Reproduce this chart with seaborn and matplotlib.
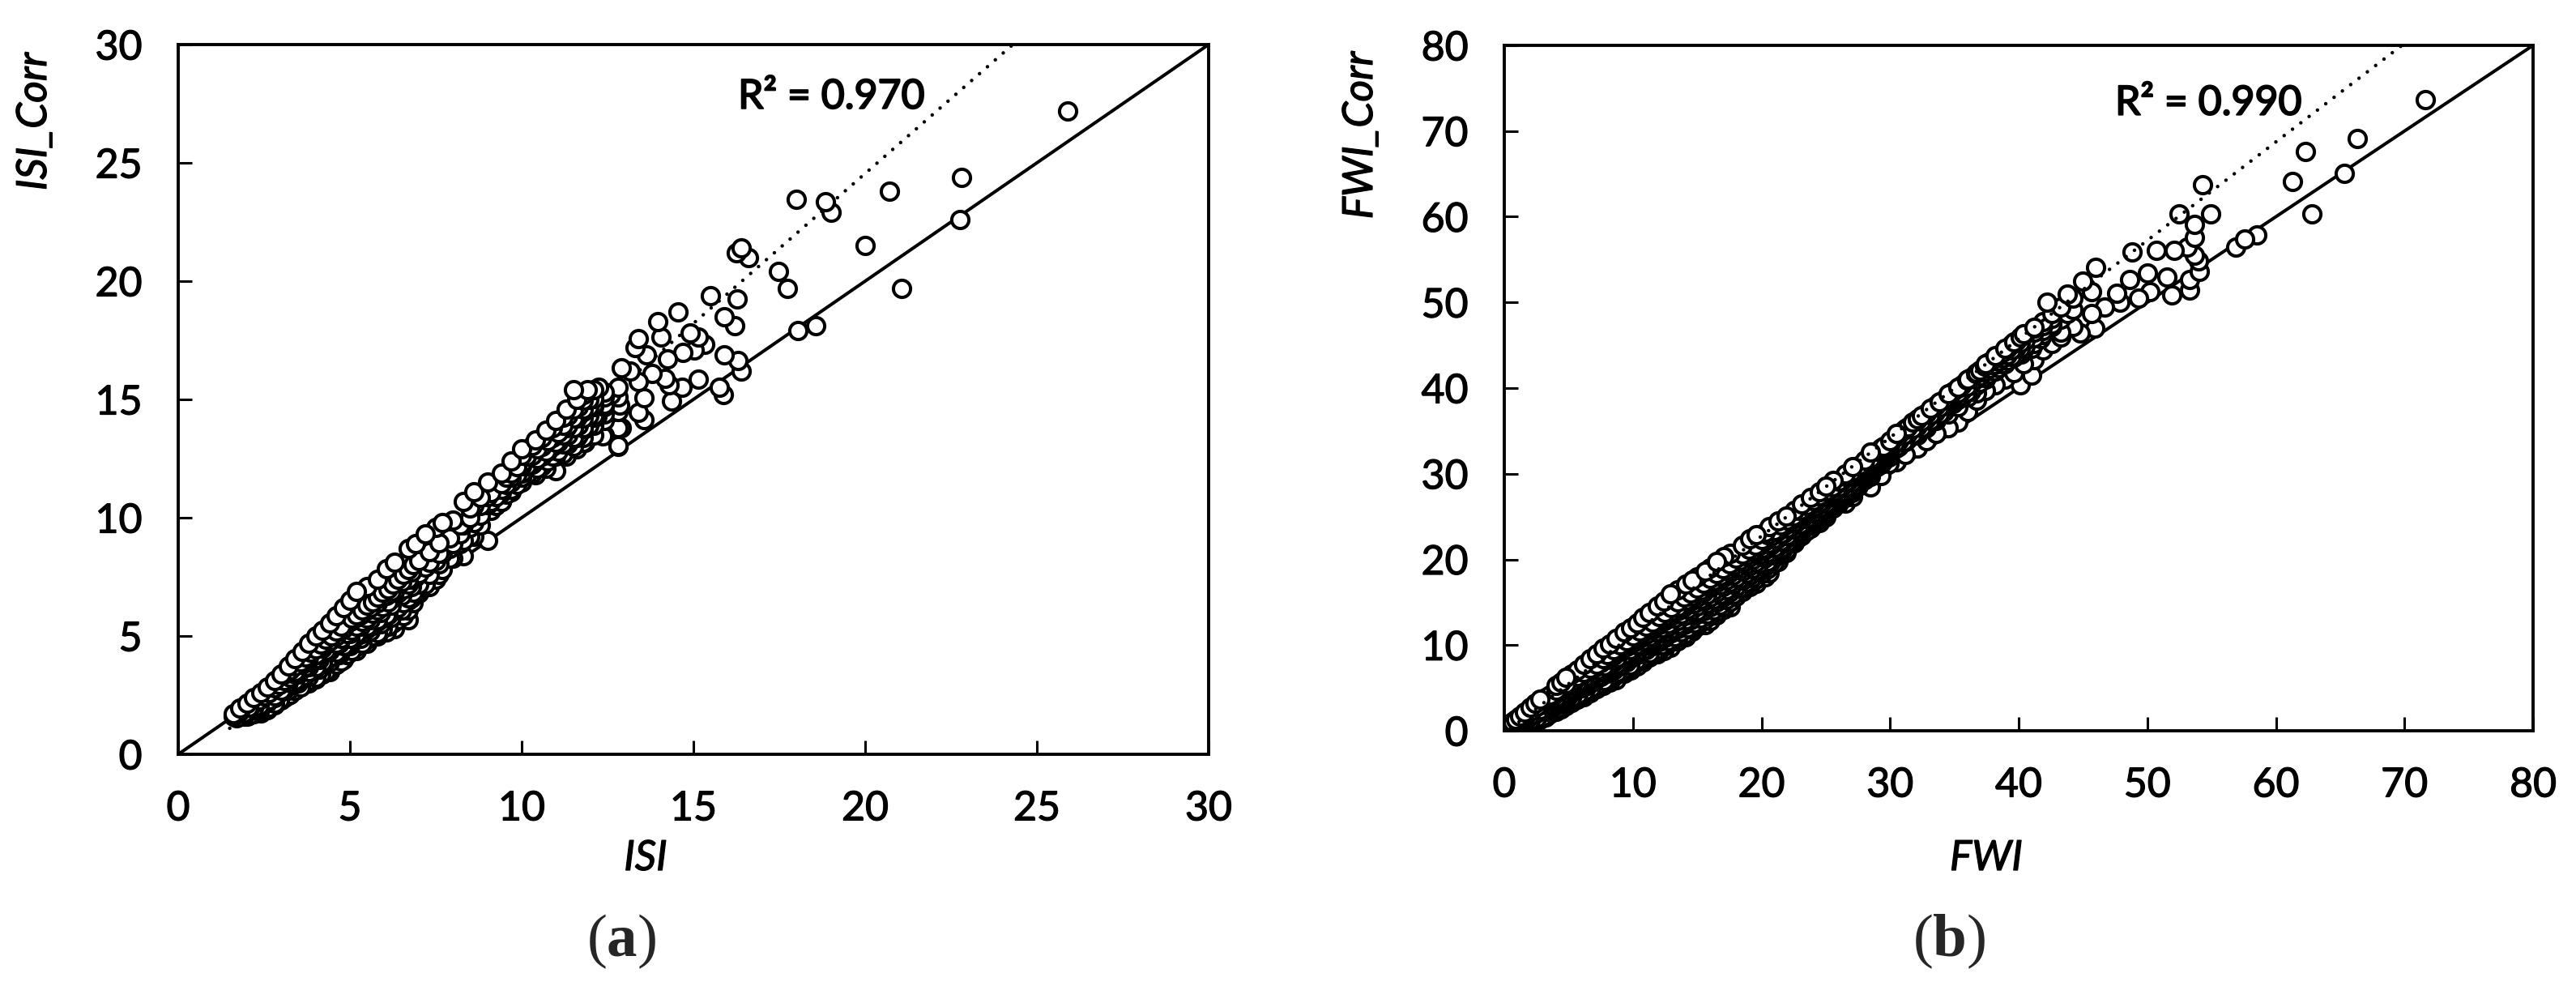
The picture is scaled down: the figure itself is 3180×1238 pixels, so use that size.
import matplotlib
matplotlib.use("Agg")
import matplotlib.pyplot as plt
import matplotlib.patheffects as pe
import pandas as pd
import seaborn as sns

# scattered points, panel a
isi_out = [25.9, 22.8, 22.76, 20.7, 20.0, 21.05, 18.0, 18.85, 19.0, 16.4, 16.25, 16.6, 17.47, 17.73,
           16.27, 15.5, 14.55, 13.97, 15.9, 16.2, 18.04, 18.55, 15.9, 16.3, 16.4, 15.88, 15.75, 15.14,
           14.66, 15.33, 15.14, 14.9, 15.03, 14.7, 14.24, 14.37, 13.57, 13.57, 12.9, 12.86, 12.8, 11.84,
           12.37, 11.83, 12.2, 13.4, 14.06, 13.3, 13.64, 12.9, 13.15, 13.8, 14.18, 14.3, 13.4, 12.6,
           11.9, 12.25, 11.5, 13.4]
isi_corr_out = [27.2, 24.4, 22.6, 23.8, 21.5, 19.7, 23.45, 23.35, 22.9, 21.4, 21.2, 21.0, 20.4, 19.7,
                19.25, 19.4, 18.7, 18.3, 18.5, 18.1, 17.9, 18.1, 16.9, 16.65, 16.2, 15.2, 15.5, 15.86,
                15.5, 17.33, 17.64, 17.8, 17.1, 17.0, 16.7, 14.94, 14.15, 15.07, 13.8, 14.76, 13.05, 13.17,
                13.47, 13.78, 14.27, 17.57, 17.64, 17.2, 16.9, 16.35, 16.2, 16.1, 15.9, 15.6, 15.75, 15.2,
                15.4, 15.5, 15.4, 14.45]

# dense band, panel a: one x with the y values stacked on it
isi_band = [1.6, 1.8, 2.0, 2.2, 2.4, 2.6, 2.8, 3.0, 3.2, 3.4, 3.6, 3.8, 4.0, 4.2, 4.4, 4.6, 4.8, 5.0,
            5.2, 5.5, 5.8, 6.05, 6.3, 6.7, 6.9, 7.2, 7.5, 7.7, 8.0, 8.3, 8.6, 9.0, 9.4, 9.7, 10.0,
            10.4, 10.7, 11.0, 11.3, 11.6, 11.8, 12.1, 12.4, 12.8]
isi_corr_band = [[1.6, 1.7], [1.6, 1.8, 1.95], [1.6, 1.8, 2.15], [1.7, 1.9, 2.4], [1.75, 2.0, 2.6],
                 [1.9, 2.2, 2.85], [2.1, 2.4, 3.1], [2.3, 2.7, 3.4], [2.5, 2.9, 3.2, 3.75],
                 [2.7, 3.1, 3.5, 4.05], [2.9, 3.3, 3.8, 4.35], [3.0, 3.5, 4.0, 4.7], [3.2, 3.7, 4.2, 5.0],
                 [3.4, 3.9, 4.5, 5.25], [3.5, 4.1, 4.8, 5.55], [3.8, 4.3, 5.0, 5.85], [4.0, 4.6, 5.3, 6.2],
                 [4.3, 4.9, 5.6, 6.5], [4.4, 5.1, 5.8, 6.9], [4.7, 5.4, 6.1, 7.1], [5.0, 5.7, 6.4, 7.4],
                 [5.17, 5.9, 6.7, 7.85], [5.3, 6.1, 6.9, 8.1], [5.7, 6.5, 7.4, 8.7], [6.8, 7.5, 8.9],
                 [7.2, 7.9, 9.3], [7.4, 8.2, 9.6], [7.8, 8.5, 9.8], [8.3, 8.9, 9.9], [8.4, 9.05, 9.7, 10.7],
                 [9.2, 9.8, 10.5, 11.1], [9.05, 10.55, 10.9, 11.5], [10.7, 11.2, 11.9], [11.2, 11.7, 12.4],
                 [11.7, 12.2, 12.9], [11.8, 12.4, 13.3], [12.1, 12.8, 13.7], [12.0, 12.6, 13.2, 14.1],
                 [12.6, 13.2, 13.8, 14.6], [12.9, 13.4, 14.2, 15.0], [13.2, 13.8, 14.5, 15.2],
                 [13.5, 14.25, 14.8, 15.4], [13.5, 14.1, 14.7, 15.3], [13.0, 13.8, 14.5, 15.1, 15.5]]

# the black middle of the band, panel a
isi_fill = [1.7, 1.9, 2.05, 2.2, 2.35, 2.5, 2.65, 2.8, 2.95, 3.1, 3.25, 3.4, 3.55, 3.7, 3.85, 4.0, 4.15, 4.3,
            4.45, 4.6, 4.75, 4.9, 5.05, 5.2, 5.35, 5.5, 5.65, 5.8, 5.95, 6.1, 6.25, 6.4, 6.55, 6.7, 6.85, 7.0,
            7.3, 7.6, 7.9, 8.2, 8.5, 8.8, 9.1, 9.4, 9.7, 10.0, 10.3, 10.6, 10.9, 11.2, 11.5, 11.8, 12.1, 12.4,
            3.2, 3.5, 3.8, 4.1, 4.4, 4.7, 5.0, 5.3, 5.6, 5.9, 6.2, 6.5, 6.8, 9.25, 9.55, 9.85, 10.15, 10.45,
            10.75, 11.05, 11.35, 11.65, 11.95]
isi_corr_fill = [[1.55, 1.7], [1.6, 1.75], [1.65, 1.85, 2.0], [1.75, 1.95, 2.15], [1.8, 2.05, 2.3], [1.85, 2.15, 2.45],
                 [2.0, 2.3, 2.6], [2.15, 2.45, 2.8], [2.3, 2.6, 2.95], [2.4, 2.75, 3.1, 3.4], [2.55, 2.9, 3.25, 3.55],
                 [2.7, 3.05, 3.4, 3.75], [2.85, 3.2, 3.55, 3.9], [3.0, 3.35, 3.7, 4.1], [3.1, 3.5, 3.9, 4.3],
                 [3.25, 3.65, 4.05, 4.45], [3.4, 3.8, 4.2, 4.65], [3.5, 3.95, 4.4, 4.85], [3.65, 4.1, 4.55, 5.0],
                 [3.8, 4.25, 4.7, 5.2], [3.95, 4.4, 4.9, 5.4], [4.2, 4.6, 5.1, 5.55], [4.4, 4.8, 5.25, 5.75],
                 [4.55, 5.0, 5.4, 5.9], [4.7, 5.1, 5.6, 6.1], [4.85, 5.3, 5.75, 6.3], [5.0, 5.45, 5.95, 6.45],
                 [5.15, 5.6, 6.1, 6.65], [5.3, 5.75, 6.25, 6.85], [5.4, 5.9, 6.45, 7.0], [5.55, 6.05, 6.6, 7.2],
                 [5.7, 6.2, 6.8, 7.4], [5.85, 6.4, 7.0, 7.6], [6.1, 6.6, 7.2, 7.8], [6.4, 6.85, 7.4, 8.0],
                 [6.8, 7.2, 7.65, 8.2], [7.1, 7.6, 8.1, 8.55], [7.6, 8.05, 8.5, 8.95], [8.3, 8.7, 9.15], [8.9, 9.3, 9.7],
                 [9.2, 9.6, 10.0, 10.4], [9.7, 10.1, 10.5, 10.85], [10.3, 10.7, 11.05], [10.7, 11.05, 11.45],
                 [11.1, 11.5, 11.9], [11.5, 11.9, 12.3, 12.65], [11.9, 12.25, 12.65, 13.05], [12.2, 12.6, 13.0, 13.4],
                 [12.6, 13.0, 13.4, 13.8], [12.7, 13.1, 13.5, 13.9, 14.25], [13.0, 13.4, 13.8, 14.2, 14.6],
                 [13.4, 13.8, 14.2, 14.6, 14.95], [13.9, 14.3, 14.7, 15.05], [14.4, 14.8, 15.1],
                 [2.7, 3.05], [3.0, 3.4, 3.8], [3.3, 3.7, 4.1], [3.6, 4.0, 4.5], [3.9, 4.4, 4.8], [4.2, 4.7, 5.2],
                 [4.6, 5.1, 5.6], [4.9, 5.4, 5.9], [5.2, 5.7, 6.2], [5.5, 6.0, 6.6], [5.8, 6.3, 6.9], [6.1, 6.7, 7.3],
                 [6.6, 7.1, 7.7], [10.5, 10.9], [11.0, 11.4, 11.7], [11.4, 11.8, 12.15], [11.8, 12.2, 12.6],
                 [12.1, 12.5, 12.9], [12.4, 12.8, 13.25], [12.8, 13.2, 13.6], [13.1, 13.5, 13.9, 14.3],
                 [13.5, 13.9, 14.3, 14.7], [13.9, 14.3, 14.7, 15.0]]

# scattered points, panel b
fwi_out = [71.6, 66.3, 62.3, 65.3, 61.3, 62.8, 54.3, 54.9, 52.5, 53.7, 53.7, 53.1, 53.7, 54.0, 54.05,
           53.3, 53.3, 51.9, 50.2, 51.5, 50.0, 48.6, 48.8, 50.7, 52.1, 46.0, 58.5, 57.6, 56.9, 49.3,
           47.9, 46.7, 45.9, 44.8, 43.3, 45.7, 47.6, 45.7, 45.0, 43.8, 42.2, 43.8, 41.7, 41.0, 40.2,
           41.0, 40.1, 38.1, 36.3, 35.3, 34.5]
fwi_corr_out = [73.7, 69.1, 67.6, 65.1, 64.1, 60.3, 63.7, 60.3, 60.3, 59.1, 57.6, 56.5, 55.5, 54.8, 53.6,
                52.7, 51.4, 50.9, 51.25, 53.0, 53.4, 52.7, 55.9, 56.1, 56.1, 54.1, 57.9, 57.4, 56.5, 50.5,
                50.0, 49.5, 47.0, 46.4, 46.5, 48.7, 51.1, 51.3, 52.5, 51.0, 50.0, 48.7, 45.8, 44.6, 44.0,
                41.5, 40.4, 42.7, 39.6, 39.0, 38.3]

# dense band, panel b
fwi_band = [0.6, 0.9, 1.2, 1.6, 2.0, 2.4, 2.8, 3.2, 3.5, 4.0, 4.4, 4.8, 5.2, 5.7, 6.2, 6.7, 7.2, 7.7,
            8.2, 8.7, 9.3, 9.8, 10.3, 10.8, 11.3, 11.9, 12.4, 12.9, 13.5, 14.1, 14.6, 15.0, 15.6, 16.0,
            16.5, 17.1, 17.6, 18.5, 19.1, 19.6, 20.3, 20.6, 21.3, 21.9, 22.55, 23.1, 23.8, 24.5, 25.0,
            25.6, 26.5, 27.1, 28.5, 29.3, 29.9, 30.5, 31.2, 32.1, 32.8, 33.6, 34.5, 35.3, 36.0, 36.7,
            37.4, 38.2, 38.9, 39.6, 40.4, 41.2, 41.9, 42.6, 43.3, 44.2]
fwi_corr_band = [[0.6, 1.0], [0.7, 1.3], [0.8, 1.2, 1.7], [0.9, 1.5, 2.2], [1.0, 1.8, 2.7], [1.2, 2.1, 3.2],
                 [1.3, 2.5, 3.7], [1.6, 2.9, 3.9], [2.0, 3.2, 4.2], [2.3, 3.6, 4.7, 5.3], [2.6, 3.9, 5.1, 5.7],
                 [2.9, 4.3, 5.5, 6.2], [3.3, 4.6, 5.8, 6.6], [3.7, 5.1, 6.3, 7.1], [4.0, 5.5, 6.8, 7.8],
                 [4.4, 6.0, 7.3, 8.4], [4.9, 6.3, 7.8, 9.0], [5.3, 6.9, 8.4, 9.6], [5.7, 7.3, 8.9, 10.1],
                 [6.0, 7.8, 9.4, 10.8], [6.7, 8.4, 10.2, 11.5], [7.1, 8.9, 10.6, 12.0], [7.6, 9.4, 11.1, 12.6],
                 [8.0, 9.9, 11.7, 13.2], [8.6, 10.3, 12.3, 13.8], [9.0, 10.9, 12.9, 14.6], [9.4, 11.4, 13.3, 15.1],
                 [9.7, 11.8, 13.9, 16.0], [10.5, 12.4, 14.5, 16.5], [11.0, 13.0, 15.2, 17.1], [11.6, 13.5, 15.7, 17.6],
                 [12.2, 14.0, 16.1, 18.0], [12.4, 14.5, 16.6, 18.6], [12.9, 15.0, 17.2, 19.0], [13.5, 15.4, 17.7, 19.8],
                 [14.2, 16.0, 18.2, 20.3], [14.5, 16.6, 18.8, 20.7], [16.3, 17.6, 19.7, 21.7], [16.8, 18.2, 20.3, 22.4],
                 [17.2, 18.7, 20.9, 22.9], [18.0, 19.4, 21.5, 23.2], [18.4, 19.9, 21.9, 23.8], [19.8, 21.0, 22.6, 24.5],
                 [20.8, 21.9, 23.4, 25.1], [21.9, 23.0, 24.2, 25.7], [22.8, 23.8, 25.1, 26.5], [23.6, 24.6, 25.9, 27.2],
                 [24.3, 25.4, 26.7, 27.9], [25.0, 26.0, 27.3, 28.6], [26.0, 27.0, 28.0, 29.2], [26.6, 27.6, 28.9, 30.0],
                 [27.3, 28.3, 29.6, 30.8], [28.5, 29.7, 31.2, 32.5], [29.8, 31.1, 32.2, 33.0], [31.2, 32.0, 33.3],
                 [31.4, 33.0, 34.7], [32.2, 33.8, 35.3], [33.0, 34.5, 36.4], [33.9, 35.4, 37.1], [34.7, 36.2, 38.0],
                 [35.4, 37.0, 38.3, 39.0], [36.0, 37.8, 38.8, 40.0], [37.3, 39.0, 41.0], [38.6, 39.4, 41.8],
                 [39.7, 41.0, 42.8], [40.4, 42.0, 43.8], [41.0, 42.8, 44.6], [41.8, 43.6, 45.4], [42.8, 44.4, 46.3],
                 [43.3, 45.2, 47.0], [44.4, 46.2, 47.8], [45.2, 47.2, 48.7], [46.0, 48.0, 49.5], [47.2, 49.2, 50.5]]

# the black middle of the band, panel b
fwi_fill = [1.0, 1.5, 2.0, 2.5, 3.0, 3.5, 4.0, 4.5, 5.0, 5.5, 6.0, 6.5, 7.0, 7.5, 8.0, 8.5, 9.0, 9.5, 10.0, 10.5,
            11.0, 11.5, 12.0, 12.5, 13.0, 13.5, 14.0, 14.5, 15.0, 15.5, 16.0, 16.5, 17.0, 17.5, 18.0, 18.5, 19.0, 19.5,
            20.0, 20.5, 21.0, 21.5, 22.0, 22.5, 23.0, 23.5, 24.0, 24.5, 25.0, 25.5, 26.0, 26.5, 27.0, 27.5, 28.0, 28.5,
            29.0, 29.5, 30.0, 30.7, 31.4, 32.1, 32.8, 33.5, 34.2, 34.9, 35.6, 36.3, 37.0, 37.7, 38.4, 39.1, 39.8, 40.5,
            41.2, 41.9, 42.6,
            3.25, 3.75, 4.25, 4.75, 5.25, 5.75, 6.25, 6.75, 7.25, 7.75, 8.25, 8.75, 9.25, 9.75, 10.25, 10.75, 11.25,
            11.75, 12.25, 12.75, 13.25, 13.75, 14.25, 14.75, 15.25, 15.75, 16.25, 16.75, 17.25, 17.75, 18.25, 18.75,
            19.25, 19.75, 20.25, 20.75, 21.25, 21.75, 22.25, 22.75, 23.25, 23.75, 24.25, 24.75, 25.25, 25.75, 26.25,
            26.75, 27.25, 27.75, 28.25, 28.75, 29.25, 29.75, 30.35, 31.05, 31.75, 32.45, 33.15, 33.85, 34.55, 35.25,
            35.95, 36.65, 37.35, 38.05, 38.75, 39.45, 40.15]
fwi_corr_fill = [[0.8, 1.1, 1.4], [1.0, 1.4, 1.9], [1.2, 1.7, 2.3], [1.5, 2.1, 2.8], [1.7, 2.4, 3.2], [2.1, 2.8, 3.5, 4.0],
                 [2.6, 3.2, 3.9, 4.5], [3.0, 3.6, 4.3, 5.0], [3.4, 4.1, 4.8, 5.5], [3.9, 4.6, 5.3, 6.0], [4.2, 5.0, 5.7, 6.4],
                 [4.6, 5.3, 6.1, 6.9], [5.1, 5.8, 6.6, 7.4], [5.5, 6.3, 7.1, 7.9], [5.9, 6.7, 7.5, 8.3, 8.9],
                 [6.3, 7.1, 8.0, 8.8, 9.5], [6.8, 7.6, 8.5, 9.3, 10.0], [7.2, 8.0, 8.9, 9.8, 10.5], [7.7, 8.6, 9.5, 10.3, 11.1],
                 [8.1, 9.0, 9.9, 10.8, 11.6], [8.6, 9.5, 10.4, 11.3, 12.2], [9.0, 9.9, 10.9, 11.8, 12.7],
                 [9.4, 10.4, 11.4, 12.4, 13.3], [9.9, 10.9, 11.9, 12.9, 13.8], [10.4, 11.4, 12.4, 13.4, 14.4],
                 [10.9, 11.9, 12.9, 14.0, 15.0], [11.3, 12.4, 13.4, 14.5, 15.6], [11.9, 13.0, 14.0, 15.1, 16.1],
                 [12.5, 13.6, 14.6, 15.6, 16.6], [12.9, 14.0, 15.1, 16.2, 17.2], [13.4, 14.5, 15.6, 16.7, 17.8],
                 [13.9, 15.0, 16.2, 17.3, 18.3], [14.5, 15.6, 16.8, 17.9, 18.9], [15.0, 16.2, 17.3, 18.4, 19.5],
                 [15.7, 16.8, 17.9, 19.0, 20.1], [16.6, 17.6, 18.6, 19.6, 20.6], [17.2, 18.2, 19.2, 20.2, 21.2],
                 [17.7, 18.7, 19.7, 20.7, 21.7], [18.3, 19.3, 20.3, 21.3, 22.3], [18.9, 19.8, 20.8, 21.8, 22.9],
                 [19.6, 20.5, 21.4, 22.4, 23.4], [20.5, 21.3, 22.1, 23.0, 24.0], [21.2, 22.0, 22.8, 23.6, 24.6],
                 [22.0, 22.7, 23.5, 24.3, 25.1], [22.7, 23.4, 24.1, 24.9, 25.7], [23.4, 24.1, 24.8, 25.5, 26.3],
                 [24.0, 24.7, 25.4, 26.1, 26.9], [24.7, 25.4, 26.0, 26.7, 27.4], [25.3, 26.0, 26.6, 27.3, 28.0],
                 [26.1, 26.7, 27.3, 27.9, 28.5], [26.6, 27.2, 27.8, 28.5, 29.1], [27.2, 27.8, 28.4, 29.0, 29.7],
                 [27.8, 28.4, 29.0, 29.7, 30.3], [28.6, 29.2, 29.8, 30.4, 30.9], [29.3, 29.9, 30.5, 31.1, 31.6],
                 [30.0, 30.6, 31.2, 31.8], [30.8, 31.4, 32.0, 32.6], [31.5, 32.1, 32.7, 33.2], [32.2, 32.8, 33.4, 33.9],
                 [33.2, 33.9, 34.6], [34.0, 34.7, 35.5], [34.8, 35.6, 36.3], [35.7, 36.4, 37.1], [36.5, 37.2, 37.9],
                 [37.3, 38.0, 38.7], [38.2, 38.9, 39.6], [39.0, 39.7, 40.4], [39.8, 40.5, 41.2], [40.7, 41.4, 42.1],
                 [41.6, 42.3, 43.0], [42.4, 43.1, 43.8], [43.2, 43.9, 44.6], [44.0, 44.7, 45.5], [44.9, 45.6, 46.3],
                 [45.9, 46.5, 47.1], [46.7, 47.3], [47.5, 48.1],
                 [2.3, 3.0, 3.6], [2.7, 3.4, 4.1], [3.1, 3.8, 4.5], [3.5, 4.3, 5.0], [3.9, 4.7, 5.4], [4.3, 5.1, 5.8],
                 [4.6, 5.4, 6.2], [5.0, 5.8, 6.6], [5.4, 6.2, 7.1], [5.9, 6.7, 7.6], [6.3, 7.1, 8.0, 8.8],
                 [6.8, 7.6, 8.5, 9.3], [7.2, 8.0, 8.9, 9.8], [7.7, 8.5, 9.5, 10.3], [8.2, 9.1, 10.0, 10.9],
                 [8.6, 9.5, 10.5, 11.4], [9.1, 10.0, 11.0, 11.9], [9.5, 10.5, 11.5, 12.5], [10.0, 11.0, 12.0, 13.0],
                 [10.5, 11.5, 12.5, 13.5], [11.0, 12.0, 13.1, 14.1], [11.5, 12.5, 13.6, 14.6], [12.0, 13.1, 14.2, 15.2],
                 [12.6, 13.7, 14.8, 15.8], [13.1, 14.2, 15.3, 16.4], [13.6, 14.8, 15.9, 16.9], [14.1, 15.3, 16.4, 17.5],
                 [14.7, 15.9, 17.0, 18.1], [15.3, 16.5, 17.6, 18.7], [15.9, 17.1, 18.2, 19.3], [16.6, 17.7, 18.8, 19.9],
                 [17.3, 18.3, 19.4, 20.4], [17.9, 18.9, 20.0, 21.0], [18.5, 19.5, 20.5, 21.6], [19.1, 20.1, 21.1, 22.1],
                 [19.8, 20.7, 21.7, 22.7], [20.6, 21.5, 22.4, 23.3], [21.4, 22.2, 23.1, 23.9], [22.1, 22.9, 23.7, 24.5],
                 [22.8, 23.6, 24.4, 25.1], [23.5, 24.2, 25.0, 25.7], [24.1, 24.8, 25.6, 26.3], [24.8, 25.4, 26.2, 26.9],
                 [25.4, 26.1, 26.8, 27.4], [26.0, 26.7, 27.4, 28.1], [26.7, 27.3, 28.0, 28.7], [27.3, 27.9, 28.6, 29.2],
                 [27.9, 28.5, 29.2, 29.8], [28.5, 29.1, 29.8, 30.4], [29.3, 29.9, 30.5, 31.1], [30.0, 30.6, 31.2],
                 [30.7, 31.3, 31.9], [31.4, 32.0, 32.6], [32.1, 32.7, 33.3], [33.0, 33.6, 34.2], [33.8, 34.5, 35.1],
                 [34.6, 35.3, 36.0], [35.4, 36.1, 36.8], [36.2, 36.9, 37.6], [37.0, 37.7, 38.4], [37.9, 38.6, 39.3],
                 [38.7, 39.4, 40.1], [39.5, 40.2, 40.9], [40.3, 41.0, 41.7], [41.2, 41.9, 42.6], [42.0, 42.7, 43.4],
                 [42.8, 43.5, 44.2], [43.7, 44.4, 45.1], [44.6, 45.3, 46.0]]

isi_ticks = [0, 5, 10, 15, 20, 25, 30]
fwi_ticks = [0, 10, 20, 30, 40, 50, 60, 70, 80]
isi_trend_x, isi_trend_y = [1.5, 24.3], [1.1, 30.0]
fwi_trend_x, fwi_trend_y = [0.5, 69.8], [0.3, 80.0]

W, H = 3180, 1238
sns.set_theme(style="white", rc={"axes.edgecolor": "black", "axes.linewidth": 1.4})
plt.rcParams["font.family"] = ["Lato", "DejaVu Sans"]
plt.rcParams["mathtext.fontset"] = "custom"
plt.rcParams["mathtext.rm"] = "Liberation Serif"
plt.rcParams["mathtext.bf"] = "Liberation Serif:bold"

# the reference text is a little heavier than Lato regular
heavier = [pe.withStroke(linewidth=0.45, foreground="black")]


def frame(xs, ys, band_x, band_y, fill_x, fill_y):
    x, y = [], []
    for bx, col in zip(band_x + fill_x, band_y + fill_y):
        for v in col:
            x.append(bx)
            y.append(v)
    df = pd.DataFrame({"x": x + xs, "y": y + ys})
    # rings higher above the 1:1 line are drawn on top
    df["above"] = df["y"] - df["x"]
    return df.sort_values("above", kind="stable")


def panel(box, df, ticks, trend_x, trend_y, xname, yname, r2, r2_pos, xl, yl, dots_over):
    left, top, right, bottom = box
    ax = fig.add_axes([left / W, 1 - bottom / H, (right - left) / W, (bottom - top) / H])
    lim = ticks[-1]
    ax.plot([0, lim], [0, lim], color="black", lw=1.45, zorder=1)
    sns.scatterplot(data=df, x="x", y="y", s=58, color="white", edgecolor="black", linewidth=1.45,
                    ax=ax, zorder=2, legend=False)
    ax.plot(trend_x, trend_y, color="black", lw=1.6, linestyle=(0, (0.01, 2.9)), dash_capstyle="round",
            zorder=3 if dots_over else 1)
    ax.set_xlim(0, lim)
    ax.set_ylim(0, lim)
    ax.set_xticks(ticks)
    ax.set_yticks(ticks)
    ax.tick_params(direction="in", length=6, width=1.1, labelsize=18, color="black", pad=16,
                   bottom=True, left=True, labelcolor="black")
    for t in ax.get_xticklabels() + ax.get_yticklabels():
        t.set_path_effects(heavier)
    ax.set_xlabel("")
    ax.set_ylabel("")
    fig.text(xl[0] / W, 1 - xl[1] / H, xname, style="italic", fontsize=18.5,
             ha="center", va="center", color="black", path_effects=heavier)
    fig.text(yl[0] / W, 1 - yl[1] / H, yname, style="italic", fontsize=18.5,
             rotation=90, ha="center", va="center", color="black", path_effects=heavier)
    ax.text(r2_pos[0], r2_pos[1], r2, fontsize=18, ha="left", va="baseline", color="black",
            path_effects=[pe.withStroke(linewidth=0.7, foreground="black")])
    return ax


fig = plt.figure(figsize=(W / 200, H / 200), dpi=200)
panel((220, 55, 1492, 931), frame(isi_out, isi_corr_out, isi_band, isi_corr_band, isi_fill, isi_corr_fill), isi_ticks,
      isi_trend_x, isi_trend_y, "ISI", "ISI_Corr", "R² = 0.970", (16.3, 27.3), (797, 1060), (43, 150), False)
panel((1857, 56, 3127, 902), frame(fwi_out, fwi_corr_out, fwi_band, fwi_corr_band, fwi_fill, fwi_corr_fill), fwi_ticks,
      fwi_trend_x, fwi_trend_y, "FWI", "FWI_Corr", "R² = 0.990", (47.5, 71.9), (2452, 1060), (1680, 167), True)

fig.text(767 / W, 1 - 1162 / H, r"($\mathbf{a}$)", fontsize=27, family="Liberation Serif", ha="center", va="center")
fig.text(2406 / W, 1 - 1162 / H, r"($\mathbf{b}$)", fontsize=27, family="Liberation Serif", ha="center", va="center")

fig.savefig("out.png", dpi=200, facecolor="white")
